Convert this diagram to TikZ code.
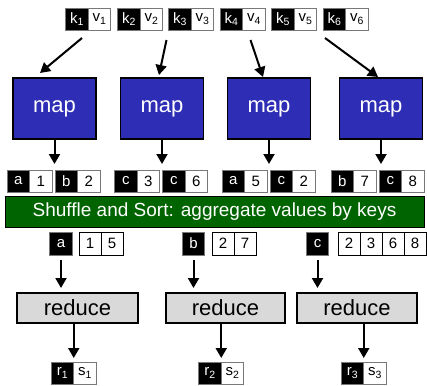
\documentclass[tikz,border=0pt]{standalone}
\usepackage{fontspec}
\setmainfont{Liberation Sans}
\usetikzlibrary{arrows.meta,calc}
\definecolor{mapblue}{RGB}{45,45,182}
\definecolor{sortgreen}{RGB}{0,100,0}
\definecolor{redgray}{RGB}{217,217,217}
\definecolor{cellrule}{RGB}{120,120,120}

\begin{document}
\begin{tikzpicture}[x=1pt,y=-1pt,
  every node/.style={inner sep=0pt, outer sep=0pt},
  cellfont/.style={font=\fontsize{15}{15}\selectfont},
  keycell/.style={cellfont, fill=black, draw=cellrule, line width=0.6pt, text=white,
    minimum width=22.5pt, minimum height=22pt},
  valcell/.style={cellfont, fill=white, draw=cellrule, line width=0.6pt, text=black,
    minimum width=22.5pt, minimum height=22pt},
  listcell/.style={valcell, draw=black, minimum width=22pt, minimum height=23pt},
  mapbox/.style={fill=mapblue, draw=black, line width=1.8pt, text=white,
    minimum width=83pt, minimum height=61pt, font=\fontsize{22}{22}\selectfont},
  redbox/.style={fill=redgray, draw=black, line width=1.8pt,
    minimum height=30pt, font=\fontsize{22}{22}\selectfont},
  flow/.style={line width=2pt, -{Triangle[length=10pt,width=11pt]}},
]
\useasboundingbox (0,0) rectangle (427,385);

% input key/value pairs
\foreach \i/\x in {1/77,2/129,3/180,4/231.5,5/283,6/334.5} {
  \node[keycell] (k\i) at (\x,19) {k\textsubscript{\i}};
  \node[valcell] (v\i) at (\x+22.5,19) {v\textsubscript{\i}};
}

% mappers
\node[mapbox] (map1) at (54.5,108.5) {map};
\node[mapbox] (map2) at (162,108.5) {map};
\node[mapbox] (map3) at (269,108.5) {map};
\node[mapbox] (map4) at (381,108.5) {map};

\draw[flow] ($(k1.south)+(5,8)$) -- ($(map1.north)+(-14.5,-5)$);
\draw[flow] ($(v2.south)+(15,10)$) -- ($(map2.north)+(-3,-3)$);
\draw[flow] ($(v4.south)+(-3.5,10)$) -- ($(map3.north)+(-6,-1)$);
\draw[flow] ($(k6.south)+(-9.5,8)$) -- ($(map4.north)+(-3,-1)$);

% intermediate pairs emitted by each mapper
\foreach \g/\s/\ka/\va/\kb/\vb in {1/7/a/1/b/2, 2/114.5/c/3/c/6, 3/222/a/5/c/2, 4/331/b/7/c/8} {
  \node[keycell] (g\g ka) at (\s+11.25,181) {\ka};
  \node[valcell] (g\g va) at (\s+33.75,181) {\va};
  \node[keycell] (g\g kb) at (\s+59.25,181) {\kb};
  \node[valcell] (g\g vb) at (\s+81.75,181) {\vb};
  \draw[flow, shorten >=6pt] (map\g.south) -- (map\g.south |- g\g ka.north);
}

% shuffle stage
\node[fill=sortgreen, draw=black, line width=0.6pt, minimum width=419pt,
  minimum height=31pt, text=white, font=\fontsize{19}{19}\selectfont]
  (sort) at (214.5,211.5) {Shuffle and Sort: aggregate values by keys};

% grouped values per key
\node[keycell, minimum height=23pt] (ka) at (61,243.5) {a};
\node[listcell] (la1) at (90,243.5) {1};
\node[listcell] (la2) at (112,243.5) {5};

\node[keycell, minimum height=23pt] (kb) at (193.5,243.5) {b};
\node[listcell] (lb1) at (223,243.5) {2};
\node[listcell] (lb2) at (245,243.5) {7};

\node[keycell, minimum height=23pt] (kc) at (317.5,243.5) {c};
\node[listcell] (lc1) at (349,243.5) {2};
\node[listcell] (lc2) at (371,243.5) {3};
\node[listcell] (lc3) at (393,243.5) {6};
\node[listcell] (lc4) at (415,243.5) {8};

% reducers
\node[redbox, minimum width=121pt] (red1) at (77.5,308) {reduce};
\node[redbox, minimum width=119pt] (red2) at (225.5,308) {reduce};
\node[redbox, minimum width=120pt] (red3) at (357,308) {reduce};

\draw[flow, shorten <=5pt, shorten >=5pt] (ka.south) -- (ka.south |- red1.north);
\draw[flow, shorten <=5pt, shorten >=5pt] (kb.south) -- (kb.south |- red2.north);
\draw[flow, shorten <=5pt, shorten >=5pt] (kc.south) -- (kc.south |- red3.north);

% output pairs
\foreach \i/\x in {1/62.5,2/210,3/352.5} {
  \node[keycell] (r\i) at (\x,373) {r\textsubscript{\i}};
  \node[valcell] (s\i) at (\x+22.5,373) {s\textsubscript{\i}};
  \draw[flow, shorten >=4pt] (red\i.south -| r\i.north east) -- (r\i.north east);
}
\end{tikzpicture}
\end{document}
